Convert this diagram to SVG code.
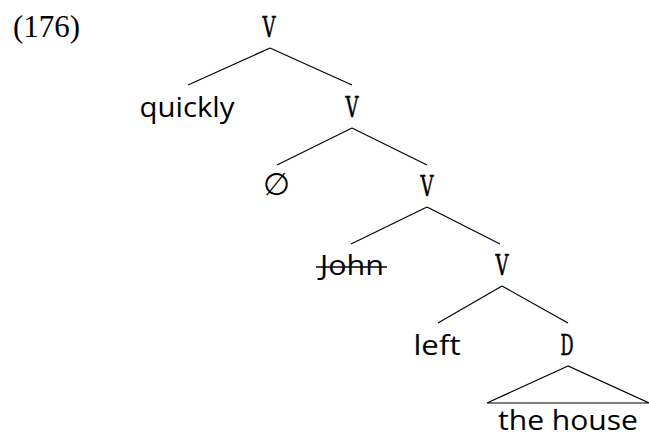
<svg xmlns="http://www.w3.org/2000/svg" width="649" height="435" viewBox="0 0 649 435">
<style>
.mono{font-family:"DejaVu Serif","Liberation Serif",serif;font-size:27px;fill:#000;stroke:#000;stroke-width:0.6;text-anchor:middle}
.sans{font-family:"Open Sans","Noto Sans",sans-serif;font-size:27px;fill:#000;text-anchor:middle}
.serif{font-family:"Liberation Serif",serif;font-size:31px;fill:#000}
.edge{stroke:#000;stroke-width:1.2;fill:none}
</style>
<rect width="649" height="435" fill="#fff"/>
<text class="serif" x="13" y="37">(176)</text>
<g id="connectors">
<line class="edge" x1="270" y1="48" x2="188" y2="85"/>
<line class="edge" x1="270" y1="48" x2="352" y2="85"/>
<line class="edge" x1="352" y1="128" x2="277" y2="165"/>
<line class="edge" x1="352" y1="128" x2="427" y2="165"/>
<line class="edge" x1="427" y1="207" x2="351" y2="244"/>
<line class="edge" x1="427" y1="207" x2="500" y2="244"/>
<line class="edge" x1="502" y1="286" x2="438" y2="323"/>
<line class="edge" x1="502" y1="286" x2="568" y2="323"/>
<polygon class="edge" points="568,366 487,403 649,403"/>
</g>
<g id="n1"><text class="mono" x="269" y="37" textLength="13" lengthAdjust="spacingAndGlyphs">V</text></g>
<g id="n2"><text class="sans" x="187" y="117" textLength="95" lengthAdjust="spacingAndGlyphs">quickly</text></g>
<g id="n3"><text class="mono" x="352" y="117" textLength="13" lengthAdjust="spacingAndGlyphs">V</text></g>
<g id="n4"><text class="sans" x="276" y="195" style="font-size:31px">∅</text></g>
<g id="n5"><text class="mono" x="427" y="196" textLength="13" lengthAdjust="spacingAndGlyphs">V</text></g>
<g id="n6"><text class="sans" x="352" y="275" textLength="64" lengthAdjust="spacingAndGlyphs">John</text><line x1="316" y1="267" x2="387" y2="267" stroke="#000" stroke-width="1.6"/></g>
<g id="n7"><text class="mono" x="502" y="275" textLength="13" lengthAdjust="spacingAndGlyphs">V</text></g>
<g id="n8"><text class="sans" x="437" y="355" textLength="47" lengthAdjust="spacingAndGlyphs">left</text></g>
<g id="n9"><text class="mono" x="567" y="355" textLength="13" lengthAdjust="spacingAndGlyphs">D</text></g>
<g id="n10"><text class="sans" x="568" y="430" textLength="140" lengthAdjust="spacingAndGlyphs">the house</text></g>
</svg>
